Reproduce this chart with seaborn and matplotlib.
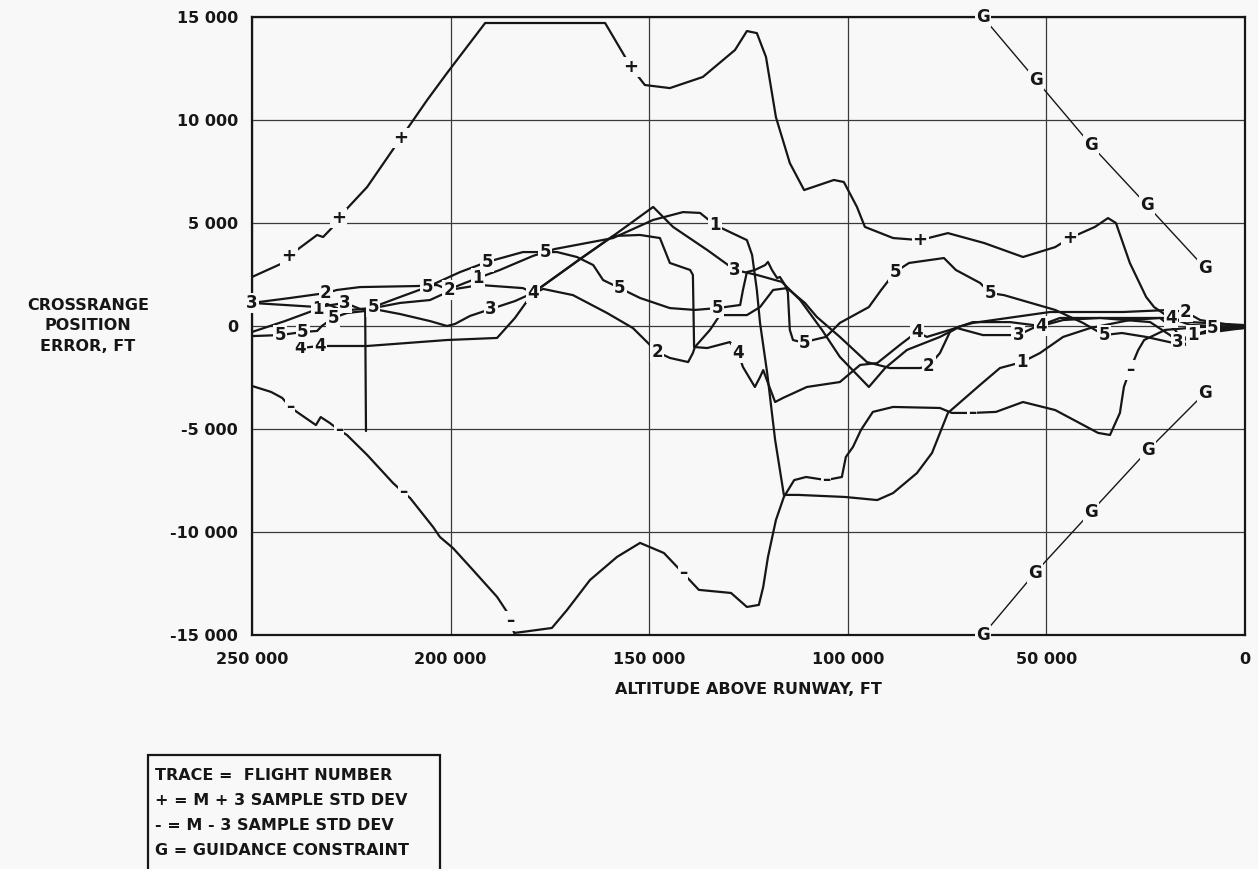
import numpy as np
import pandas as pd
import matplotlib
matplotlib.use("Agg")
import matplotlib.pyplot as plt
import seaborn as sns
from matplotlib.patches import Rectangle

sns.set_theme(style="white")
plt.rcParams['font.family'] = ['DejaVu Sans']
plt.rcParams['font.weight'] = 'bold'

BG = '#f8f8f8'
INK = '#161616'

# ---------------- data (altitude ft, crossrange error ft) ----------------
plus_alt = [250000, 242200, 240700, 233600, 232100, 229900, 228300, 221000, 212500, 205900,
            200900, 191300, 161100, 155600, 154600, 151100, 144800, 136500, 128400, 125400,
            122900, 120600, 118100, 114600, 111000, 103500, 101000, 97700, 95700, 88600,
            81800, 74800, 65700, 55900, 47800, 44100, 37800, 34500, 32500, 29000,
            24900, 22900, 18900, 13800, 500]
plus_err = [2380, 3060, 3400, 4420, 4320, 4760, 5240, 6750, 9130, 10970,
            12280, 14710, 14710, 12910, 12570, 11700, 11550, 12090, 13400, 14320,
            14220, 13060, 10140, 7910, 6600, 7090, 6990, 5780, 4810, 4270,
            4170, 4510, 4030, 3350, 3830, 4270, 4810, 5240, 5000, 3060,
            1410, 920, 390, 190, 50]
plus_mark_alt = [240700, 228300, 212500, 154600, 81800, 44100]

minus_alt = [250000, 245200, 242400, 240400, 238700, 233900, 232700, 230400, 228100, 226100,
             221000, 214500, 212000, 210200, 204400, 202700, 199400, 194400, 188300, 185800,
             185000, 184000, 181800, 174500, 170700, 164900, 158100, 152300, 146300, 141500,
             137500, 129400, 125400, 122400, 121300, 120100, 118100, 116100, 113500, 110500,
             105500, 101500, 100500, 98700, 96700, 93700, 88600, 76800, 73800, 68700,
             62700, 55900, 47800, 37000, 34000, 31500, 30500, 29000, 26900, 25400,
             20100, 11300, 500]
minus_err = [-2910, -3200, -3490, -3930, -4170, -4810, -4420, -4710, -5050, -5290,
             -6260, -7620, -8060, -8350, -9760, -10240, -10780, -11840, -13150, -13880,
             -14320, -14900, -14850, -14660, -13790, -12330, -11210, -10530, -11020, -11990,
             -12810, -12960, -13640, -13540, -12670, -11210, -9420, -8300, -7480, -7330,
             -7480, -7330, -6360, -5870, -5050, -4170, -3930, -3980, -4220, -4220,
             -4170, -3690, -4080, -5190, -5290, -4220, -2960, -2140, -1170, -680,
             -190, -50, 0]
minus_mark_alt = [240400, 228100, 212000, 185000, 141500, 105500, 68700, 29000]

g_up_alt = [66000, 52600, 38800, 24700, 10100]
g_up_err = [15000, 11940, 8790, 5870, 2820]
g_lo_alt = [66000, 52900, 38800, 24400, 10100]
g_lo_err = [-15000, -11990, -9030, -6020, -3250]

t1_alt = [250000, 241700, 233400, 231100, 228600, 225300, 219500, 212700, 205200, 201900,
          199600, 196400, 193100, 187600, 179300, 176200, 173700, 159100, 149000, 141500,
          137200, 133400, 125400, 124100, 122900, 122100, 120300, 118300, 116100, 112500,
          100700, 92600, 88600, 82600, 78800, 74800, 66700, 61700, 56100, 51600,
          45800, 39000, 29000, 21400, 17600, 15100, 13100, 8800, 500]
t1_err = [-290, 240, 830, 1070, 870, 780, 870, 1120, 1260, 1550,
          1840, 2090, 2330, 2720, 3400, 3590, 3740, 4270, 5150, 5530,
          5490, 4900, 4170, 3450, 1750, 150, -2280, -5530, -8200, -8200,
          -8300, -8450, -8110, -7140, -6160, -4220, -2860, -2040, -1750, -1310,
          -530, -100, 290, 390, -190, -920, -440, -190, -100]
t1_label_alt = [233400, 193100, 133400, 56100, 13100]

t2_alt = [250000, 240400, 231400, 228600, 222800, 208500, 203400, 200400, 192600, 181800,
          179000, 176700, 169200, 160600, 154100, 149800, 148000, 144800, 140200, 139000,
          138500, 134700, 132200, 125400, 122100, 118800, 115300, 110800, 107800, 102000,
          95200, 89400, 81800, 79600, 76800, 74300, 72300, 68500, 49100, 30700,
          18900, 14900, 11300, 500]
t2_err = [1120, 1360, 1600, 1750, 1890, 1940, 1990, 1750, 1990, 1840,
          1600, 1800, 1500, 630, -100, -920, -1260, -1550, -1750, -1310,
          -1020, -190, 530, 530, 920, 1750, 1840, 1120, 440, -530,
          -1750, -2040, -2040, -1940, -1310, -290, -50, 150, 680, 680,
          780, 680, 290, -50]
t2_label_alt = [231400, 200400, 148000, 79600, 14900]

t3_alt = [250000, 233400, 226600, 222800, 219500, 212700, 205200, 200900, 198900, 195100,
          189800, 183800, 179300, 167400, 159100, 149000, 144000, 135400, 128400, 122900,
          116600, 112000, 106500, 102000, 94700, 90600, 85100, 76800, 72500, 66000,
          57100, 53400, 46600, 36500, 23900, 18900, 16900, 13800, 500]
t3_err = [1120, 920, 1120, 830, 830, 580, 240, 0, 100, 490,
          830, 1210, 1600, 3250, 4370, 5780, 4810, 3690, 2720, 2480,
          2140, 1260, -190, -1500, -2960, -2040, -1160, -530, -100, -440,
          -440, -100, 390, 390, 190, -440, -780, -440, -100]
t3_label_alt = [250000, 226600, 189800, 128400, 57100, 16900]

t4_alt = [237900, 232900, 221000, 200900, 188300, 183800, 179300, 167400, 159100, 152300,
          147300, 144800, 139700, 139000, 138700, 135400, 129700, 127600, 126400, 123400,
          122100, 121300, 120100, 118300, 116300, 110300, 102000, 96900, 92600, 86900,
          82600, 80100, 74300, 68500, 59200, 51400, 45800, 36500, 26400, 18600,
          13800, 500]
t4_err = [-1070, -970, -970, -680, -580, 390, 1600, 3250, 4370, 4420,
          4270, 3060, 2720, 2480, -1020, -1070, -780, -1310, -1990, -2960,
          -2480, -2140, -2770, -3690, -3490, -2960, -2720, -1890, -1800, -920,
          -290, -530, -190, 190, 190, 0, 290, 390, 390, 390,
          50, -50]
t4_label_alt = [237900, 232900, 179300, 127600, 82600, 51400, 18600]

t5a_alt = [250000, 242900, 237200, 233600, 232400, 229600, 226100, 221500, 221300]
t5a_err = [-490, -440, -290, -240, 0, 390, 630, 730, -5100]
t5a_label_alt = [242900, 237200, 229600]

t5b_alt = [219500, 212700, 205900, 197600, 190800, 181800, 176200, 173200, 168200, 164100,
           161600, 157400, 152300, 144800, 138500, 132900, 127100, 126400, 125400, 123400,
           120800, 120100, 119100, 117800, 117100, 115800, 115100, 114600, 113800, 110800,
           108800, 105500, 102000, 94700, 91600, 88100, 84600, 75800, 72800, 66700,
           64200, 60700, 47800, 40800, 35500, 31000, 24900, 17900, 13800, 8100,
           500]
t5b_err = [920, 1410, 1890, 2620, 3110, 3590, 3590, 3590, 3350, 2960,
           2230, 1840, 1360, 870, 780, 870, 1020, 1750, 2620, 2720,
           2960, 3110, 2720, 2330, 2380, 1990, 1650, -190, -680, -830,
           -680, -530, 150, 920, 1750, 2620, 3060, 3300, 2720, 2090,
           1600, 1500, 780, 150, -440, -340, -530, -830, -580, -100,
           -100]
t5b_label_alt = [219500, 205900, 190800, 176200, 157400, 132900, 110800, 88100, 64200, 35500, 8100]

xtick_vals = [250000, 200000, 150000, 100000, 50000, 0]
xtick_labels = ["250 000", "200 000", "150 000", "100 000", "50 000", "0"]
ytick_vals = [15000, 10000, 5000, 0, -5000, -10000, -15000]
ytick_labels = ["15 000", "10 000", "5 000", "0", "-5 000", "-10 000", "-15 000"]

legend_lines = ["TRACE =  FLIGHT NUMBER", "+ = M + 3 SAMPLE STD DEV",
                "- = M - 3 SAMPLE STD DEV", "G = GUIDANCE CONSTRAINT"]

# ---------------- assemble ----------------
traces = {
    "plus": (plus_alt, plus_err),
    "minus": (minus_alt, minus_err),
    "t1": (t1_alt, t1_err),
    "t2": (t2_alt, t2_err),
    "t3": (t3_alt, t3_err),
    "t4": (t4_alt, t4_err),
    "t5a": (t5a_alt, t5a_err),
    "t5b": (t5b_alt, t5b_err),
}
rows = []
for name, (a, e) in traces.items():
    for i, (xa, ye) in enumerate(zip(a, e)):
        rows.append({"series": name, "order": i, "alt": xa, "err": ye})
df = pd.DataFrame(rows)

grows = []
for name, (a, e) in {"gup": (g_up_alt, g_up_err), "glo": (g_lo_alt, g_lo_err)}.items():
    for i, (xa, ye) in enumerate(zip(a, e)):
        grows.append({"series": name, "order": i, "alt": xa, "err": ye})
gdf = pd.DataFrame(grows)

fig = plt.figure(figsize=(12.58, 8.69), dpi=100)
fig.patch.set_facecolor(BG)
ax = fig.add_axes([0.2003, 0.2693, 0.7894, 0.7111])
ax.set_facecolor(BG)

sns.lineplot(data=df, x="alt", y="err", units="series", estimator=None, sort=False,
             color=INK, lw=1.6, ax=ax, legend=False, zorder=3)
sns.lineplot(data=gdf, x="alt", y="err", units="series", estimator=None, sort=False,
             color=INK, lw=1.0, ax=ax, legend=False, zorder=3)

ax.set_xlim(250000, 0)
ax.set_ylim(-15000, 15000)
ax.set_xticks(xtick_vals)
ax.set_xticklabels(xtick_labels)
ax.set_yticks(ytick_vals)
ax.set_yticklabels(ytick_labels)
ax.tick_params(length=0, labelsize=11.5, labelcolor=INK)
ax.tick_params(axis="y", pad=10)
ax.tick_params(axis="x", pad=12)
for lab in ax.get_xticklabels() + ax.get_yticklabels():
    lab.set_fontweight('bold')
ax.grid(True, color="#3a3a3a", lw=0.9)
for s in ax.spines.values():
    s.set_color(INK)
    s.set_linewidth(1.6)
ax.set_xlabel("")
ax.set_ylabel("")

bbox = dict(boxstyle="square,pad=0.06", fc=BG, ec="none")

def lab_on(alts, errs, label_alts, txt, size=12):
    a = np.asarray(alts, float)[::-1]
    e = np.asarray(errs, float)[::-1]
    for la in label_alts:
        y = np.interp(la, a, e)
        ax.text(la, y, txt, ha="center", va="center", fontsize=size, fontweight="bold",
                color=INK, bbox=bbox, zorder=5, clip_on=False)

lab_on(t1_alt, t1_err, t1_label_alt, "1")
lab_on(t2_alt, t2_err, t2_label_alt, "2")
lab_on(t3_alt, t3_err, t3_label_alt, "3")
lab_on(t4_alt, t4_err, t4_label_alt, "4")
lab_on(t5a_alt, t5a_err, t5a_label_alt, "5")
lab_on(t5b_alt, t5b_err, t5b_label_alt, "5")
lab_on(plus_alt, plus_err, plus_mark_alt, "+", size=13)
lab_on(minus_alt, minus_err, minus_mark_alt, "\u2013", size=12)
lab_on(g_up_alt, g_up_err, g_up_alt, "G", size=12)
lab_on(g_lo_alt, g_lo_err, g_lo_alt, "G", size=12)

fig.text(88 / 1258, 1 - 326 / 869, "CROSSRANGE\nPOSITION\nERROR, FT", ha="center", va="center",
         fontsize=11.5, fontweight="bold", linespacing=1.45, color=INK)
fig.text(748 / 1258, 1 - 690 / 869, "ALTITUDE ABOVE RUNWAY, FT", ha="center", va="center",
         fontsize=11.5, fontweight="bold", color=INK)

fig.patches.append(Rectangle((148 / 1258, -0.01), (440 - 148) / 1258, (0.01 + 1 - 755 / 869),
                             transform=fig.transFigure, fill=False, ec=INK, lw=1.6))
for i, t in enumerate(legend_lines):
    fig.text(155 / 1258, 1 - (775 + 25.3 * i) / 869, t, ha="left", va="center",
             fontsize=11.5, fontweight="bold", color=INK)

fig.savefig("out.png", dpi=100, facecolor=BG)
